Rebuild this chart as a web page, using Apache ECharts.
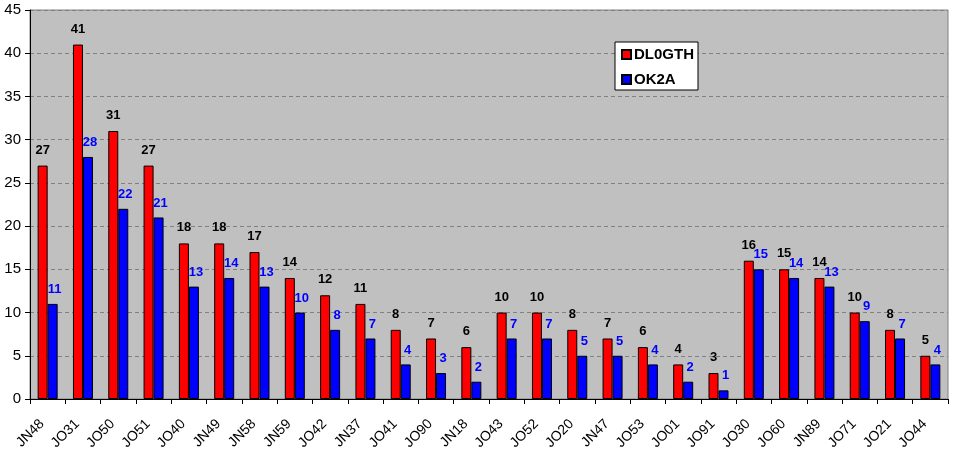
<!DOCTYPE html>
<html><head><meta charset="utf-8">
<script src="https://cdn.jsdelivr.net/npm/echarts@6/dist/echarts.min.js"></script>
<style>html,body{margin:0;padding:0;background:#fff}#c{width:954px;height:455px}</style>
</head><body><div id="c"></div>
<script>
const categories = ["JN48","JO31","JO50","JO51","JO40","JN49","JN58","JN59","JO42","JN37","JO41","JO90","JN18","JO43","JO52","JO20","JN47","JO53","JO01","JO91","JO30","JO60","JN89","JO71","JO21","JO44"];
const dl0gth = [27,41,31,27,18,18,17,14,12,11,8,7,6,10,10,8,7,6,4,3,16,15,14,10,8,5];
const ok2a = [11,28,22,21,13,14,13,10,8,7,4,3,2,7,7,5,5,4,2,1,15,14,13,9,7,4];
const yTicks = {min:0, max:45, interval:5};

const chart = echarts.init(document.getElementById('c'));
const font = 'Arial, "Liberation Sans", sans-serif';
chart.setOption({
  animation:false,
  backgroundColor:'#fff',
  grid:{left:30,right:6,top:10,bottom:56,show:true,backgroundColor:'#C0C0C0',borderColor:'#808080',borderWidth:1},
  legend:{
    orient:'vertical', left:615, top:42, itemWidth:9, itemHeight:9, itemGap:10,
    backgroundColor:'#fff', borderColor:'#000', borderWidth:1, padding:[5,4,3,6],
    textStyle:{fontFamily:font,fontWeight:'bold',fontSize:15,color:'#000',padding:[0,0,0,-2]},
    data:[{name:'DL0GTH',icon:'rect'},{name:'OK2A',icon:'rect'}]
  },
  xAxis:{
    type:'category', data:categories,
    axisLine:{lineStyle:{color:'#000',width:1}},
    axisTick:{show:true,alignWithLabel:false,length:5,lineStyle:{color:'#000'}},
    axisLabel:{rotate:45,interval:0,fontFamily:font,fontSize:14,color:'#000',margin:17,padding:[0,8,0,0]}
  },
  yAxis:{
    type:'value', min:yTicks.min, max:yTicks.max, interval:yTicks.interval,
    axisLine:{show:true,lineStyle:{color:'#000',width:1}},
    axisTick:{show:true,length:5,lineStyle:{color:'#000'}},
    axisLabel:{fontFamily:font,fontSize:15,color:'#000',margin:9},
    splitLine:{show:true,lineStyle:{color:'#808080',type:[4,3],width:1}}
  },
  series:[
    {name:'DL0GTH',type:'bar',data:dl0gth,barWidth:10,barGap:'0%',
     itemStyle:{color:'#FF0000',borderColor:'#000',borderWidth:1},
     label:{show:true,position:'top',distance:9,fontFamily:font,fontWeight:'bold',fontSize:13,color:'#000'}},
    {name:'OK2A',type:'bar',data:ok2a,barWidth:10,
     itemStyle:{color:'#0000FF',borderColor:'#000',borderWidth:1},
     label:{show:true,position:'top',distance:8,offset:[2,0],fontFamily:font,fontWeight:'bold',fontSize:13,color:'#0000FF'}}
  ]
});
</script></body></html>
